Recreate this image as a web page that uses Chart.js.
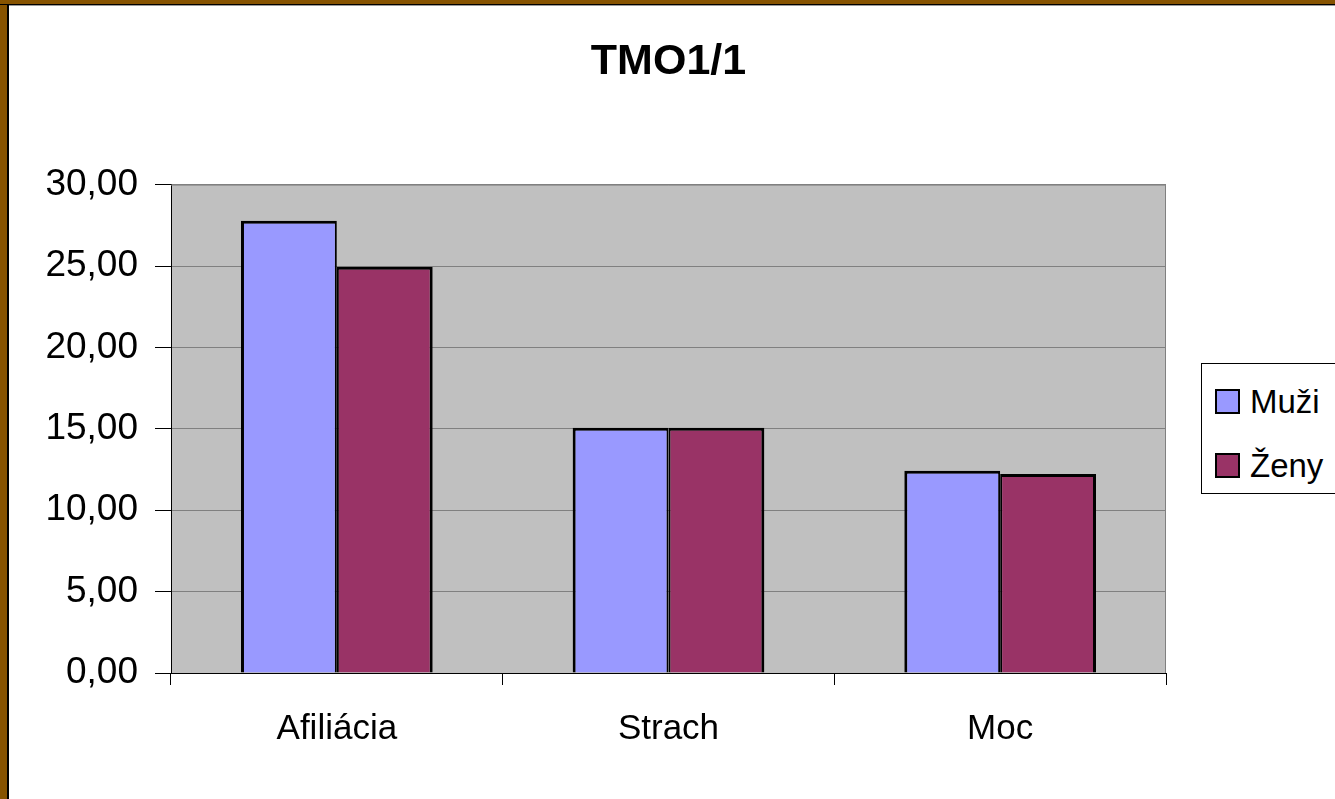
<!DOCTYPE html>
<html>
<head>
<meta charset="utf-8">
<title>TMO1/1</title>
<script src="https://cdn.jsdelivr.net/npm/chart.js@4"></script>
<style>
  html, body { margin: 0; padding: 0; background: #fff; overflow: hidden; }
  #wrap { position: relative; width: 1335px; height: 799px; }
  #chart { position: absolute; left: 0; top: 0; }
  .frame-left { position: absolute; left: 0; top: 0; width: 7px; height: 799px; background: #875300; border-right: 2px solid #000; }
  .frame-top { position: absolute; left: 0; top: 0; width: 1335px; height: 4px; background: #875300; border-bottom: 1px solid #000; }
  .frame-top2 { position: absolute; left: 9px; top: 5px; width: 1326px; height: 1px; background: #9a9a9a; }
  #legend { position: absolute; left: 1201px; top: 363px; width: 200px; height: 129px; border: 1px solid #000; background: #fff;
            font-family: "Liberation Sans", Arial, sans-serif; font-size: 33px; color: #000; }
  #legend .item { position: absolute; left: 13px; height: 40px; line-height: 40px; white-space: nowrap; }
  #legend .box { display: inline-block; width: 21px; height: 21px; border: 2px solid #000; vertical-align: middle; margin-right: 10px; position: relative; top: -3px; }
</style>
</head>
<body>
<div id="wrap">
  <canvas id="chart" width="1335" height="799"></canvas>
  <div class="frame-left"></div>
  <div class="frame-top"></div>
  <div class="frame-top2"></div>
  <div id="legend"></div>
</div>
<script>
const categories = ['Afiliácia', 'Strach', 'Moc'];
const seriesNames = ['Muži', 'Ženy'];
const muzi = [27.78, 15.06, 12.42];
const zeny = [24.95, 15.06, 12.23];
const seriesColors = ['#9999ff', '#993366'];
const yTicks = [0, 5, 10, 15, 20, 25, 30];

const plotBackground = {
  id: 'plotBackground',
  beforeDraw(chart) {
    const { ctx, chartArea: a } = chart;
    ctx.save();
    ctx.fillStyle = '#c0c0c0';
    ctx.fillRect(a.left, a.top, a.right - a.left, a.bottom - a.top);
    ctx.restore();
  },
  beforeDatasetsDraw(chart) {
    const { ctx, chartArea: a } = chart;
    ctx.save();
    ctx.strokeStyle = '#808080';
    ctx.lineWidth = 1;
    ctx.beginPath();
    ctx.moveTo(a.left, a.top + 0.5);
    ctx.lineTo(a.right - 0.5, a.top + 0.5);
    ctx.lineTo(a.right - 0.5, a.bottom);
    ctx.stroke();
    ctx.restore();
  }
};

const ctx = document.getElementById('chart').getContext('2d');

new Chart(ctx, {
  type: 'bar',
  data: {
    labels: categories,
    datasets: [
      {
        label: seriesNames[0],
        data: muzi,
        backgroundColor: seriesColors[0],
        borderColor: '#000',
        borderWidth: { top: 3, left: 3, right: 2, bottom: 0 },
        borderSkipped: 'start'
      },
      {
        label: seriesNames[1],
        data: zeny,
        backgroundColor: seriesColors[1],
        borderColor: '#000',
        borderWidth: { top: 3, left: 2, right: 3, bottom: 0 },
        borderSkipped: 'start'
      }
    ]
  },
  options: {
    responsive: false,
    animation: false,
    devicePixelRatio: 1,
    layout: { padding: { left: 0, right: 169, top: 0, bottom: 0 } },
    datasets: {
      bar: { categoryPercentage: 0.578, barPercentage: 1.0 }
    },
    scales: {
      x: {
        afterFit: (scale) => { scale.height = 126; },
        grid: {
          display: true,
          drawOnChartArea: false,
          offset: true,
          tickLength: 12,
          color: '#000'
        },
        border: { display: true, color: '#000', width: 1 },
        ticks: {
          color: '#000',
          padding: 23,
          font: { family: '"Liberation Sans", Arial, sans-serif', size: 35 }
        }
      },
      y: {
        min: 0,
        max: 30,
        afterFit: (scale) => { scale.width = 171; },
        afterBuildTicks: (scale) => { scale.ticks = yTicks.map(v => ({ value: v })); },
        grid: {
          color: '#808080',
          tickColor: '#000',
          tickLength: 16,
          lineWidth: 1
        },
        border: { display: true, color: '#000', width: 1 },
        ticks: {
          color: '#000',
          padding: 17,
          font: { family: '"Liberation Sans", Arial, sans-serif', size: 37 },
          callback: (v) => Number(v).toFixed(2).replace('.', ',')
        }
      }
    },
    plugins: {
      legend: { display: false },
      tooltip: { enabled: false },
      title: {
        display: true,
        text: 'TMO1/1',
        fullSize: false,
        color: '#000',
        font: { family: '"Liberation Sans", Arial, sans-serif', size: 43, weight: 'bold' },
        padding: { top: 36, bottom: 97 }
      }
    }
  },
  plugins: [plotBackground]
});

// legend built from the same arrays
const legendEl = document.getElementById('legend');
seriesNames.forEach((name, i) => {
  const item = document.createElement('div');
  item.className = 'item';
  item.style.top = (18 + i * 64) + 'px';
  const box = document.createElement('span');
  box.className = 'box';
  box.style.background = seriesColors[i];
  item.appendChild(box);
  item.appendChild(document.createTextNode(name));
  legendEl.appendChild(item);
});
</script>
</body>
</html>
